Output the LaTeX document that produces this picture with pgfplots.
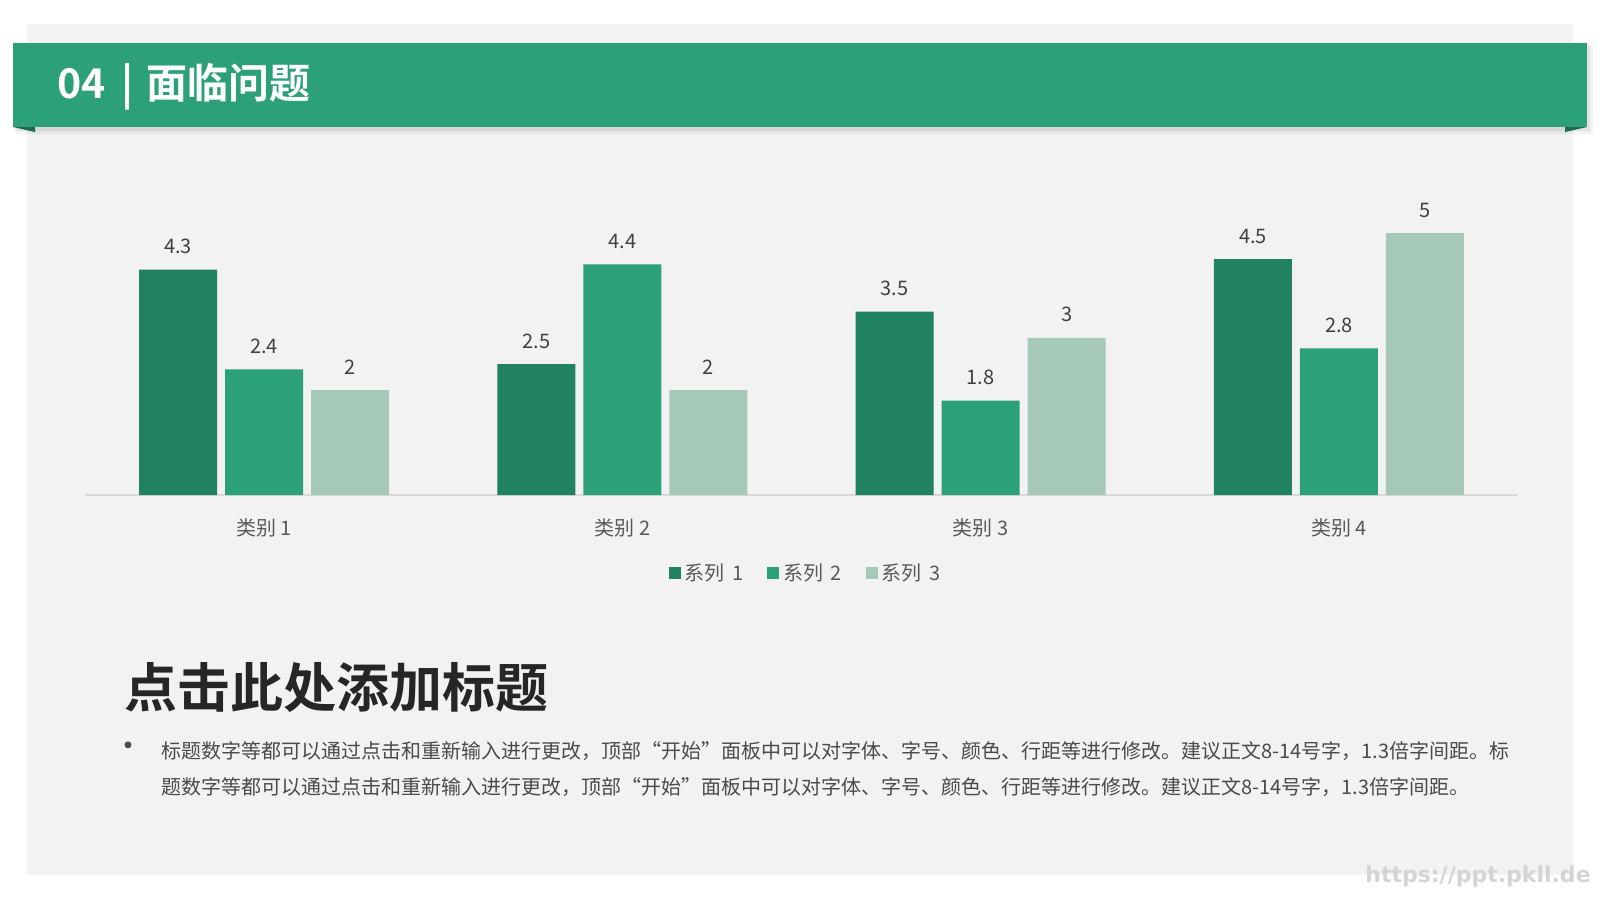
\documentclass[border=0pt]{standalone}
\usepackage{pgfplots}
\pgfplotsset{compat=1.18}
\usepackage{fontspec}
\setmainfont{Noto Sans CJK SC}[BoldFont={Noto Sans CJK SC Bold}]
\newfontfamily\wmfont{DejaVu Sans}
\definecolor{bannerG}{HTML}{2CA077}
\definecolor{foldG}{HTML}{1B6A4D}
\definecolor{sA}{HTML}{21825F}
\definecolor{sB}{HTML}{2CA077}
\definecolor{sC}{HTML}{A5C9B6}
\definecolor{panel}{HTML}{F2F2F2}
\definecolor{axisgray}{HTML}{D9D9D9}
\definecolor{tickgray}{HTML}{595959}
\definecolor{labgray}{HTML}{404040}
\definecolor{titlecol}{HTML}{262626}
\definecolor{bodycol}{HTML}{4A4A4A}
\definecolor{wmcol}{HTML}{D4D4D4}
\begin{document}
\begin{tikzpicture}[x=0.5pt,y=-0.5pt]
\fill[white] (0,0) rectangle (1600,900);
\fill[panel] (27,24) rectangle (1573,875);
% banner shadow
\fill[black,opacity=0.05] (16,46) rectangle (1593,134);
\fill[black,opacity=0.06] (14,44) rectangle (1590,131);
\fill[bannerG] (13,43) rectangle (1587,127);
\fill[foldG] (13,127) -- (35,127) -- (35,132) -- cycle;
\fill[foldG] (1565,127) -- (1587,127) -- (1565,132) -- cycle;
\node[anchor=west,inner sep=0pt,text=white,font=\fontsize{20.5}{24}\selectfont\bfseries] at (57,87) {04\hspace{0.15em} | \hspace{0.1em}面临问题};
\coordinate (axorig) at (85,495);
\begin{axis}[
  at={(axorig)}, anchor=south west,
  scale only axis, width=716.5pt, height=144.1pt,
  ymin=0, ymax=5.5, xmin=-0.5, xmax=3.5,
  ybar=4pt, bar width=39pt,
  axis y line=none, axis x line*=bottom,
  x axis line style={draw=axisgray, line width=0.6pt, -},
  xtick={0,1,2,3}, xticklabels={类别 1,类别 2,类别 3,类别 4},
  xtick style={draw=none}, major tick length=0pt,
  xticklabel style={anchor=base, yshift=-20pt, text=tickgray, font=\fontsize{10}{12}\selectfont},
  clip=false,
  nodes near coords,
  every node near coord/.append style={anchor=base, yshift=8pt, inner sep=0pt, text=labgray, font=\fontsize{10}{12}\selectfont},
  /pgf/number format/assume math mode=true,
  legend columns=3,
  legend style={at={(axis description cs:0.5035,-0.272)}, anchor=center, draw=none, fill=none,
    font=\fontsize{10}{12}\selectfont, text=tickgray,
    /tikz/every even column/.append style={column sep=10pt}},
  legend image code/.code={\fill[#1] (0pt,-3pt) rectangle (6pt,3pt);},
]
\addplot[fill=sA, draw=none] coordinates {(0,4.3) (1,2.5) (2,3.5) (3,4.5)};
\addplot[fill=sB, draw=none] coordinates {(0,2.4) (1,4.4) (2,1.8) (3,2.8)};
\addplot[fill=sC, draw=none] coordinates {(0,2) (1,2) (2,3) (3,5)};
\legend{系列\hspace{0.15em} 1, 系列\hspace{0.15em} 2, 系列\hspace{0.15em} 3}
\end{axis}
\node[anchor=west,inner sep=0pt,text=titlecol,font=\fontsize{26.5}{30}\selectfont\bfseries] at (124,687) {点击此处添加标题};
\node[anchor=center,inner sep=0pt,text=bodycol,font=\fontsize{16}{18}\selectfont] at (128,750) {•};
\node[anchor=west,inner sep=0pt,text=bodycol,font=\fontsize{10}{12}\selectfont] at (161,751) {标题数字等都可以通过点击和重新输入进行更改，顶部“开始”面板中可以对字体、字号、颜色、行距等进行修改。建议正文8-14号字，1.3倍字间距。标};
\node[anchor=west,inner sep=0pt,text=bodycol,font=\fontsize{10}{12}\selectfont] at (161,787) {题数字等都可以通过点击和重新输入进行更改，顶部“开始”面板中可以对字体、字号、颜色、行距等进行修改。建议正文8-14号字，1.3倍字间距。};
\node[anchor=center,inner sep=0pt,text=wmcol,font=\fontsize{11}{13}\selectfont\wmfont\bfseries] at (1478,876) {https://ppt.pkll.de};
\pgfresetboundingbox
\path[use as bounding box] (0,0) rectangle (1600,900);
\end{tikzpicture}
\end{document}
